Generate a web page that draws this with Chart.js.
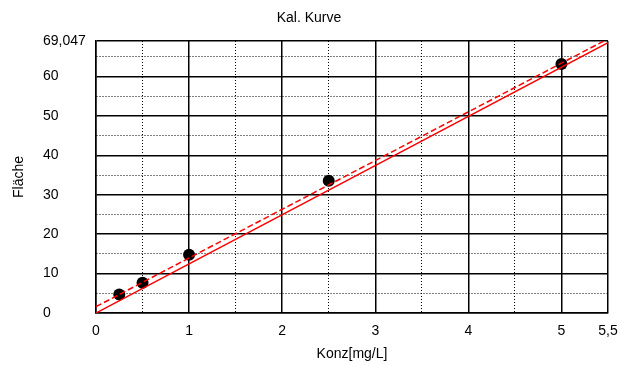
<!DOCTYPE html>
<html>
<head>
<meta charset="utf-8">
<script src="https://cdn.jsdelivr.net/npm/chart.js@4/dist/chart.umd.min.js"></script>
<style>
  html, body { margin: 0; padding: 0; background: #fff; }
  #wrap { width: 632px; height: 365px; position: relative; }
</style>
</head>
<body>
<div id="wrap"><canvas id="calChart"></canvas></div>
<script>
// Measured points (Konz vs. Fläche)
const concValues = [0.25, 0.5, 1, 2.5, 5];
const areaValues = [4.7, 7.7, 14.8, 33.6, 63.2];

// Calibration lines (solid through origin, dashed with offset)
const solidLineX = [0, 5.5];
const solidLineY = [0, 68.6];
const dashLineX = [0, 5.5];
const dashLineY = [1.6, 69.6];

// Axis ticks
const xTickValues = [0, 0.5, 1, 1.5, 2, 2.5, 3, 3.5, 4, 4.5, 5, 5.5];
const yTickValues = [0, 5, 10, 15, 20, 25, 30, 35, 40, 45, 50, 55, 60, 65, 69.047];
const xMax = 5.5;
const yMax = 69.047;

Chart.defaults.font.family = '"Liberation Sans", Arial, sans-serif';
Chart.defaults.font.size = 14;
Chart.defaults.color = '#000';

function toPoints(xs, ys) {
    return xs.map((x, i) => ({ x: x, y: ys[i] }));
}

function fmt(v) {
    return String(v).replace('.', ',');
}

// minor grid lines are dotted, major ones solid
function isMinorX(v) { return v !== xMax && v % 1 !== 0; }
function isMinorY(v) { return v !== yMax && v % 10 !== 0; }

// Title and rotated y-axis label
const extraText = {
    id: 'extraText',
    afterDraw(chart) {
        const ctx = chart.ctx;
        const area = chart.chartArea;
        ctx.save();
        ctx.fillStyle = '#000';
        ctx.font = '14px "Liberation Sans", Arial, sans-serif';
        ctx.textAlign = 'center';
        ctx.textBaseline = 'middle';
        ctx.fillText('Kal. Kurve', 309, 18);
        ctx.translate(19, (area.top + area.bottom) / 2);
        ctx.rotate(-Math.PI / 2);
        ctx.fillText('Fläche', 0, 0);
        ctx.restore();
    }
};

new Chart(document.getElementById('calChart'), {
    type: 'scatter',
    data: {
        datasets: [
            {
                label: 'Kurve',
                data: toPoints(solidLineX, solidLineY),
                showLine: true,
                borderColor: '#ff0000',
                borderWidth: 1.5,
                pointRadius: 0,
                clip: 0
            },
            {
                label: 'Kurve 2',
                data: toPoints(dashLineX, dashLineY),
                showLine: true,
                borderColor: '#ff0000',
                borderWidth: 1.5,
                borderDash: [6, 3],
                pointRadius: 0,
                clip: 0
            },
            {
                label: 'Messpunkte',
                data: toPoints(concValues, areaValues),
                showLine: false,
                pointRadius: 6,
                pointBackgroundColor: '#000',
                pointBorderColor: '#000',
                pointBorderWidth: 0
            }
        ]
    },
    options: {
        responsive: true,
        maintainAspectRatio: false,
        animation: false,
        layout: { padding: { left: 43, right: 24, top: 41, bottom: 0 } },
        plugins: {
            legend: { display: false },
            title: { display: false },
            tooltip: { enabled: false }
        },
        scales: {
            x: {
                type: 'linear',
                min: 0,
                max: xMax,
                afterBuildTicks: (scale) => { scale.ticks = xTickValues.map(v => ({ value: v })); },
                afterFit: (scale) => { scale.height = 52; },
                ticks: {
                    autoSkip: false,
                    maxRotation: 0,
                    padding: 10,
                    callback: (v) => (v % 1 === 0 || v === xMax) ? fmt(v) : ''
                },
                grid: {
                    color: '#000',
                    drawTicks: false,
                    lineWidth: (ctx) => (ctx.tick && isMinorX(ctx.tick.value)) ? 1 : 1.5
                },
                border: {
                    color: '#000',
                    width: 1.5,
                    dash: (ctx) => (ctx.tick && isMinorX(ctx.tick.value)) ? [1, 2] : []
                },
                title: {
                    display: true,
                    text: 'Konz[mg/L]',
                    padding: { top: 7, bottom: 2 }
                }
            },
            y: {
                type: 'linear',
                min: 0,
                max: yMax,
                afterBuildTicks: (scale) => { scale.ticks = yTickValues.map(v => ({ value: v })); },
                afterFit: (scale) => { scale.width = 53; },
                ticks: {
                    autoSkip: false,
                    crossAlign: 'far',
                    callback: (v) => (v % 10 === 0 || v === yMax) ? fmt(v) : ''
                },
                grid: {
                    color: '#000',
                    drawTicks: false,
                    lineWidth: (ctx) => (ctx.tick && isMinorY(ctx.tick.value)) ? 1 : 1.5
                },
                border: {
                    color: '#000',
                    width: 1.5,
                    dash: (ctx) => (ctx.tick && isMinorY(ctx.tick.value)) ? [1, 2] : []
                }
            }
        }
    },
    plugins: [extraText]
});
</script>
</body>
</html>
